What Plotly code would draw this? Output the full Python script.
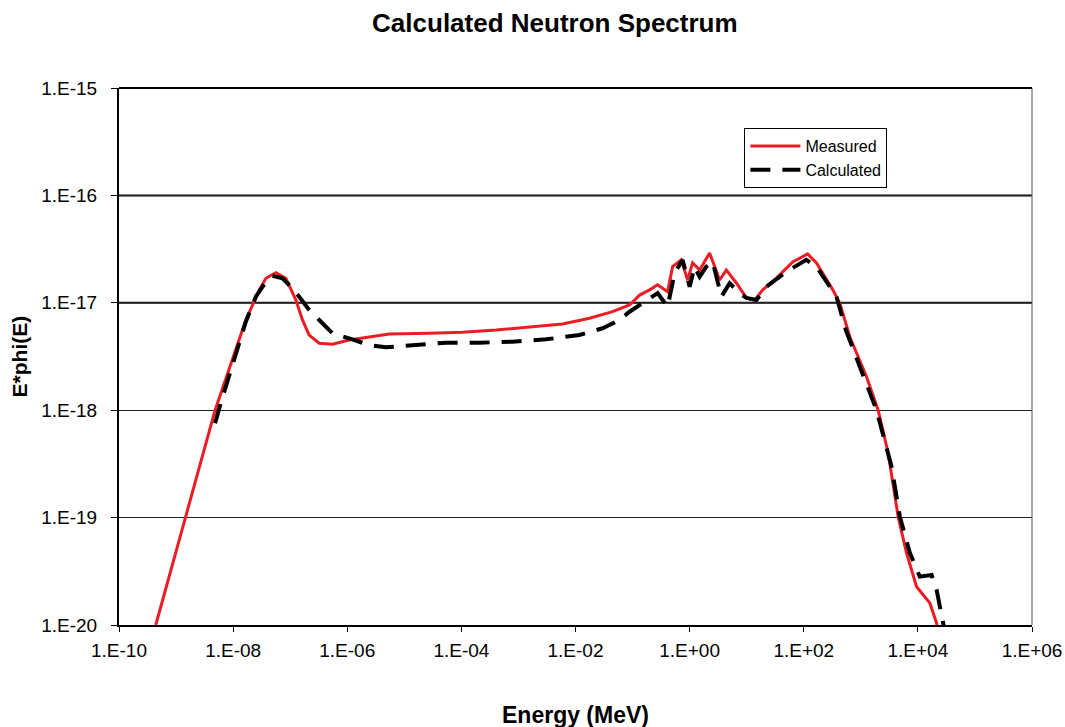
import plotly.graph_objects as go

# ---- data ----
measured_energy = [4.41e-10, 1.48e-9, 4.83e-9, 1.67e-8, 2.24e-8, 2.86e-8, 3.75e-8, 5.61e-8,
                   8.41e-8, 1.26e-7, 1.64e-7, 2.15e-7, 3.23e-7, 5.52e-7, 1.08e-6, 2.43e-6,
                   5.46e-6, 2.75e-5, 1.04e-4, 4.06e-4, 1.56e-3, 5.92e-3, 1.76e-2, 4.46e-2,
                   8.85e-2, 0.133, 0.199, 0.275, 0.411, 0.503, 0.715, 0.922, 1.13, 1.50,
                   2.24, 3.36, 4.40, 6.60, 9.88, 13.8, 19.1, 33.2, 64.1, 117, 167, 323,
                   429, 641, 1259, 2013, 3015, 4510, 6330, 9490, 1.62e4, 2.13e4, 2.2e4]
measured_flux = [1.0e-20, 1.0e-19, 1.0e-18, 6.92e-18, 1.0e-17, 1.31e-17, 1.69e-17, 1.91e-17,
                 1.69e-17, 1.06e-17, 6.92e-18, 5.01e-18, 4.20e-18, 4.11e-18, 4.51e-18, 4.83e-18,
                 5.12e-18, 5.20e-18, 5.31e-18, 5.58e-18, 5.92e-18, 6.35e-18, 7.18e-18, 8.27e-18,
                 9.55e-18, 1.18e-17, 1.32e-17, 1.47e-17, 1.27e-17, 2.17e-17, 2.51e-17, 1.63e-17,
                 2.35e-17, 2.02e-17, 2.91e-17, 1.63e-17, 2.02e-17, 1.53e-17, 1.11e-17, 1.06e-17,
                 1.32e-17, 1.70e-17, 2.40e-17, 2.85e-17, 2.35e-17, 1.32e-17, 9.9e-18, 4.83e-18,
                 2.05e-18, 1.0e-18, 4.0e-19, 1.02e-19, 4.68e-20, 2.27e-20, 1.60e-20, 1.04e-20,
                 8.5e-21]

calculated_energy = [4.83e-9, 6.08e-9, 1.67e-8, 2.50e-8, 3.75e-8, 4.89e-8, 7.33e-8, 1.10e-7,
                     1.44e-7, 2.15e-7, 3.23e-7, 5.52e-7, 1.08e-6, 2.43e-6, 4.78e-6, 1.07e-5,
                     5.39e-5, 2.07e-4, 7.85e-4, 3.06e-3, 1.17e-2, 2.98e-2, 5.91e-2, 8.85e-2,
                     0.275, 0.411, 0.546, 0.754, 1.0, 1.22, 1.50, 1.96, 2.53, 3.60, 5.03,
                     7.54, 9.88, 14.8, 22.2, 49.7, 111, 167, 375, 546, 1084, 1884, 3456,
                     4835, 7244, 1.08e4, 1.74e4, 2.13e4, 2.78e4, 2.95e4]
calculated_flux = [7.55e-19, 1.17e-18, 6.67e-18, 1.14e-17, 1.57e-17, 1.78e-17, 1.69e-17, 1.36e-17,
                   1.14e-17, 8.57e-18, 6.92e-18, 5.20e-18, 4.67e-18, 4.04e-18, 3.85e-18, 3.96e-18,
                   4.25e-18, 4.25e-18, 4.35e-18, 4.57e-18, 5.01e-18, 5.79e-18, 6.92e-18, 8.26e-18,
                   1.23e-17, 9.2e-18, 1.89e-17, 2.51e-17, 1.41e-17, 2.17e-17, 1.75e-17, 2.17e-17,
                   2.42e-17, 1.14e-17, 1.52e-17, 1.23e-17, 1.11e-17, 1.06e-17, 1.41e-17, 1.95e-17,
                   2.51e-17, 2.17e-17, 1.14e-17, 5.58e-18, 2.22e-18, 1.0e-18, 2.98e-19,
                   1.02e-19, 4.68e-20, 2.82e-20, 2.92e-20, 2.12e-20, 1.04e-20, 8.8e-21]

x_tick_vals = [1e-10, 1e-8, 1e-6, 1e-4, 1e-2, 1e0, 1e2, 1e4, 1e6]
x_tick_text = ["1.E-10", "1.E-08", "1.E-06", "1.E-04", "1.E-02", "1.E+00", "1.E+02", "1.E+04", "1.E+06"]
y_tick_vals = [1e-20, 1e-19, 1e-18, 1e-17, 1e-16, 1e-15]
y_tick_text = ["1.E-20", "1.E-19", "1.E-18", "1.E-17", "1.E-16", "1.E-15"]
bold_grid_vals = [1e-16, 1e-17]

FONT = "Liberation Sans, Arial, sans-serif"

fig = go.Figure()
fig.add_trace(go.Scatter(x=measured_energy, y=measured_flux, mode="lines", name="Measured",
                         line=dict(color="#ec1c24", width=3)))
fig.add_trace(go.Scatter(x=calculated_energy, y=calculated_flux, mode="lines", name="Calculated",
                         line=dict(color="black", width=4, dash="20px,12px")))

for v in bold_grid_vals:
    fig.add_shape(type="line", xref="paper", x0=0, x1=1, yref="y", y0=v, y1=v,
                  line=dict(color="black", width=2), layer="below")
# right border (thin)
fig.add_shape(type="line", xref="paper", x0=1, x1=1, yref="paper", y0=0, y1=1,
              line=dict(color="#555555", width=1))
# top border
fig.add_shape(type="line", xref="paper", x0=0, x1=1, yref="paper", y0=1, y1=1,
              line=dict(color="black", width=2))

fig.update_layout(
    width=1065, height=727,
    margin=dict(l=119, r=33, t=88, b=102, autoexpand=False),
    paper_bgcolor="white", plot_bgcolor="white",
    font=dict(family=FONT, color="black"),
    title=dict(text="<b>Calculated Neutron Spectrum</b>", x=0.521, xanchor="center",
               y=1 - 23 / 727, yanchor="middle", font=dict(size=26, family=FONT, color="black")),
    showlegend=True,
    legend=dict(x=0.685, y=0.9255, xanchor="left", yanchor="top",
                bgcolor="white", bordercolor="black", borderwidth=1,
                font=dict(size=16, family=FONT, color="black"),
                itemwidth=50, tracegroupgap=0),
    xaxis=dict(type="log", range=[-10, 6], tickvals=x_tick_vals, ticktext=x_tick_text,
               automargin=False,
               showgrid=False, zeroline=False, showline=True, linecolor="black", linewidth=2,
               ticks="outside", ticklen=5, tickcolor="black", tickwidth=1,
               ticklabelstandoff=2,
               tickfont=dict(size=19, family=FONT, color="black")),
    yaxis=dict(type="log", range=[-20, -15], tickvals=y_tick_vals, ticktext=y_tick_text,
               automargin=False,
               showgrid=True, gridcolor="#222222", gridwidth=1, zeroline=False,
               showline=True, linecolor="black", linewidth=2,
               ticks="outside", ticklen=6, tickcolor="black", tickwidth=1,
               ticklabelstandoff=10,
               tickfont=dict(size=19, family=FONT, color="black")),
    annotations=[
        dict(text="<b>Energy (MeV)</b>", xref="paper", yref="paper", x=0.5, y=-90 / 537,
             xanchor="center", yanchor="middle", showarrow=False,
             font=dict(size=23, family=FONT, color="black")),
        dict(text="<b>E*phi(E)</b>", xref="paper", yref="paper", x=-99 / 912, y=0.5,
             xanchor="center", yanchor="middle", textangle=-90, showarrow=False,
             font=dict(size=21, family=FONT, color="black")),
    ],
)

fig.write_html("out.html")
